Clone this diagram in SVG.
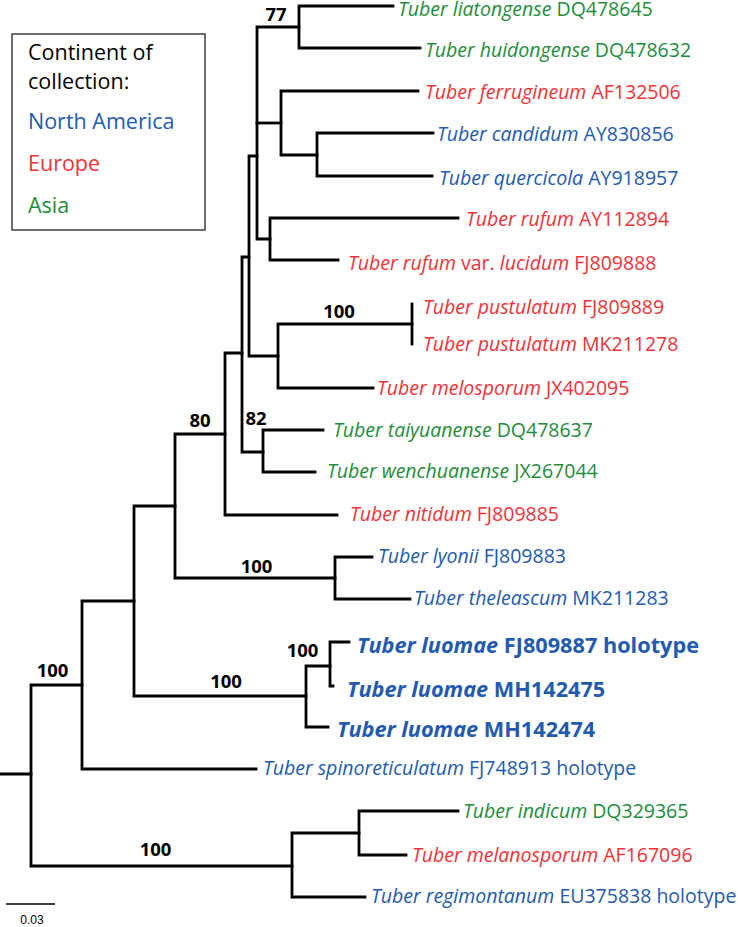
<svg xmlns="http://www.w3.org/2000/svg" width="738" height="927" viewBox="0 0 738 927">
<style>
.bg{fill:#ffffff}
.br{fill:none;stroke:#000;stroke-width:2.8;stroke-linejoin:miter;stroke-linecap:square}
.t{font-family:"Open Sans","Liberation Sans",sans-serif;font-size:19.5px}
.i{font-style:italic}
.b{font-family:"Open Sans","Liberation Sans",sans-serif;font-size:21.7px;font-weight:bold}
.na{fill:#235aaf}
.eu{fill:#f03237}
.as{fill:#1e8c3c}
.sup{font-family:"Open Sans","Liberation Sans",sans-serif;font-size:18.5px;font-weight:bold;fill:#000;text-anchor:middle}
.lg{font-family:"Open Sans","Liberation Sans",sans-serif;font-size:21.5px}
.box{fill:#fff;stroke:#222;stroke-width:1.3}
.sc{font-family:"Liberation Sans",Arial,sans-serif;font-size:12px;fill:#000;text-anchor:middle}
</style>
<rect class="bg" x="0" y="0" width="738" height="927"/>

<g id="legend">
<rect class="box" x="12" y="34" width="193" height="196"/>
<text class="lg" x="28" y="60" fill="#000">Continent of</text>
<text class="lg" x="28" y="89" fill="#000">collection:</text>
<text class="lg na" x="28" y="129">North America</text>
<text class="lg eu" x="28" y="171">Europe</text>
<text class="lg as" x="28" y="213">Asia</text>
</g>

<g id="connectors">
<path class="br" d="M0 774 H31"/>
<path class="br" d="M82 685 H31 V866 H292"/>
<path class="br" d="M134 601 H82 V769 H256"/>
<path class="br" d="M175 506 H134 V696 H306"/>
<path class="br" d="M225 434 H175 V578 H335"/>
<path class="br" d="M242 353 H225 V515 H337"/>
<path class="br" d="M249 257 H242 V452 H263"/>
<path class="br" d="M257 156 H249 V356 H278"/>
<path class="br" d="M299 27 H257 V239 H270"/>
<path class="br" d="M257 123 H281"/>
<path class="br" d="M393 6 H299 V48 H420"/>
<path class="br" d="M418 91 H281 V155 H317"/>
<path class="br" d="M433 133 H317 V176 H432"/>
<path class="br" d="M458 218 H270 V260 H338"/>
<path class="br" d="M412 324 H278 V388 H373"/>
<path class="br" d="M412 304 V344"/>
<path class="br" d="M323 430 H263 V472 H315"/>
<path class="br" d="M372 557 H335 V599 H410"/>
<path class="br" d="M330 666 H306 V727 H328"/>
<path class="br" d="M349 642 H330 V686 H333"/>
<path class="br" d="M359 833 H292 V897 H365"/>
<path class="br" d="M458 811 H359 V855 H406"/>
</g>

<g id="support">
<text class="sup" x="276" y="21">77</text>
<text class="sup" x="339" y="318">100</text>
<text class="sup" x="256" y="425">82</text>
<text class="sup" x="200" y="427">80</text>
<text class="sup" x="256.5" y="573">100</text>
<text class="sup" x="302.5" y="657">100</text>
<text class="sup" x="226" y="688">100</text>
<text class="sup" x="52.5" y="677">100</text>
<text class="sup" x="155.5" y="856">100</text>
</g>

<g id="tip-liatongense"><text class="t as" x="398" y="16"><tspan class="i">Tuber liatongense</tspan> DQ478645</text></g>
<g id="tip-huidongense"><text class="t as" x="425" y="57"><tspan class="i">Tuber huidongense</tspan> DQ478632</text></g>
<g id="tip-ferrugineum"><text class="t eu" x="425" y="99"><tspan class="i">Tuber ferrugineum</tspan> AF132506</text></g>
<g id="tip-candidum"><text class="t na" x="437" y="141"><tspan class="i">Tuber candidum</tspan> AY830856</text></g>
<g id="tip-quercicola"><text class="t na" x="439" y="185"><tspan class="i">Tuber quercicola</tspan> AY918957</text></g>
<g id="tip-rufum"><text class="t eu" x="466" y="226"><tspan class="i">Tuber rufum</tspan> AY112894</text></g>
<g id="tip-rufum-lucidum"><text class="t eu" x="348" y="270"><tspan class="i">Tuber rufum</tspan> var. <tspan class="i">lucidum</tspan> FJ809888</text></g>
<g id="tip-pustulatum1"><text class="t eu" x="423" y="314"><tspan class="i">Tuber pustulatum</tspan> FJ809889</text></g>
<g id="tip-pustulatum2"><text class="t eu" x="423" y="351"><tspan class="i">Tuber pustulatum</tspan> MK211278</text></g>
<g id="tip-melosporum"><text class="t eu" x="377" y="395"><tspan class="i">Tuber melosporum</tspan> JX402095</text></g>
<g id="tip-taiyuanense"><text class="t as" x="333" y="437"><tspan class="i">Tuber taiyuanense</tspan> DQ478637</text></g>
<g id="tip-wenchuanense"><text class="t as" x="327" y="478"><tspan class="i">Tuber wenchuanense</tspan> JX267044</text></g>
<g id="tip-nitidum"><text class="t eu" x="350" y="521"><tspan class="i">Tuber nitidum</tspan> FJ809885</text></g>
<g id="tip-lyonii"><text class="t na" x="378" y="563"><tspan class="i">Tuber lyonii</tspan> FJ809883</text></g>
<g id="tip-theleascum"><text class="t na" x="414" y="605"><tspan class="i">Tuber theleascum</tspan> MK211283</text></g>
<g id="tip-luomae-holotype"><text class="b na" x="357" y="653"><tspan class="i">Tuber luomae</tspan> FJ809887 holotype</text></g>
<g id="tip-luomae-MH142475"><text class="b na" x="347" y="697"><tspan class="i">Tuber luomae</tspan> MH142475</text></g>
<g id="tip-luomae-MH142474"><text class="b na" x="337" y="737"><tspan class="i">Tuber luomae</tspan> MH142474</text></g>
<g id="tip-spinoreticulatum"><text class="t na" x="263" y="775"><tspan class="i">Tuber spinoreticulatum</tspan> FJ748913 holotype</text></g>
<g id="tip-indicum"><text class="t as" x="463" y="818"><tspan class="i">Tuber indicum</tspan> DQ329365</text></g>
<g id="tip-melanosporum"><text class="t eu" x="412" y="862"><tspan class="i">Tuber melanosporum</tspan> AF167096</text></g>
<g id="tip-regimontanum"><text class="t na" x="371" y="903"><tspan class="i">Tuber regimontanum</tspan> EU375838 holotype</text></g>

<g id="scale">
<path d="M6 904 H55" stroke="#000" stroke-width="1.3" fill="none"/>
<text class="sc" x="32" y="924">0.03</text>
</g>
</svg>
